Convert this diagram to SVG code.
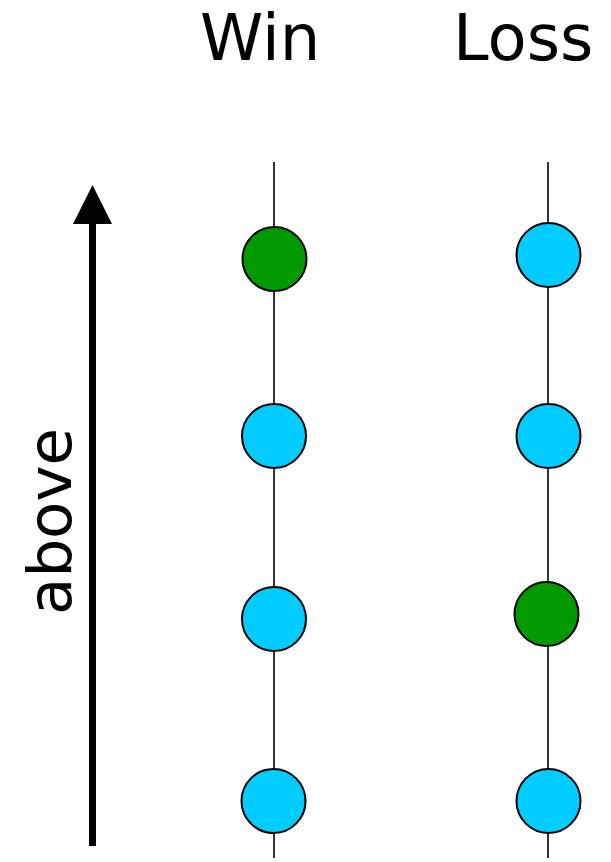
<svg xmlns="http://www.w3.org/2000/svg" width="611" height="862" viewBox="0 0 611 862">
  <style>
    .label { font-family: "DejaVu Sans", Verdana, sans-serif; font-size: 64px; fill: #000; }
    .rail { stroke: #000; stroke-width: 1.6; fill: none; }
    .node { stroke: #000; stroke-width: 2; }
    .blue { fill: #00CCFF; }
    .green { fill: #009900; }
  </style>
  <rect width="611" height="862" fill="#fff"/>

  <!-- column headers -->
  <text class="label" x="200" y="60">Win</text>
  <text class="label" x="453" y="60">Loss</text>

  <!-- vertical axis -->
  <g id="axis">
    <line x1="92.5" y1="846" x2="92.5" y2="220" stroke="#000" stroke-width="7"/>
    <polygon points="92.5,185 73,224 112,224" fill="#000"/>
    <text class="label" style="font-size:61px" transform="translate(71,615) rotate(-90)">above</text>
  </g>

  <!-- connectors -->
  <g id="connectors">
    <line class="rail" x1="274" y1="162" x2="274" y2="858"/>
    <line class="rail" x1="548" y1="162" x2="548" y2="858"/>
  </g>

  <!-- Win column -->
  <g id="win-1"><circle class="node green" cx="274.5" cy="259" r="32"/></g>
  <g id="win-2"><circle class="node blue" cx="274" cy="436" r="32"/></g>
  <g id="win-3"><circle class="node blue" cx="274" cy="619" r="32"/></g>
  <g id="win-4"><circle class="node blue" cx="273.5" cy="801" r="32"/></g>

  <!-- Loss column -->
  <g id="loss-1"><circle class="node blue" cx="548.5" cy="255" r="32"/></g>
  <g id="loss-2"><circle class="node blue" cx="548.5" cy="436" r="32"/></g>
  <g id="loss-3"><circle class="node green" cx="546.5" cy="614" r="32"/></g>
  <g id="loss-4"><circle class="node blue" cx="548.5" cy="801" r="32"/></g>
</svg>
